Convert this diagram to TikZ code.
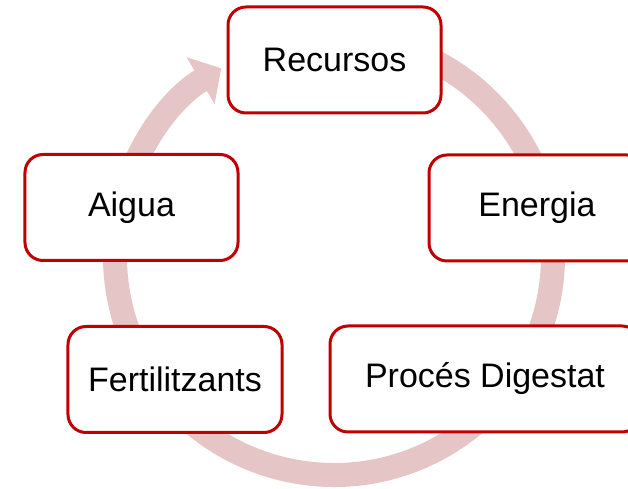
\documentclass[tikz,border=0pt]{standalone}
\usepackage{fontspec}
\setmainfont{Liberation Sans}
\usetikzlibrary{arrows.meta,calc}
\definecolor{col_C00000}{RGB}{192,0,0}
\definecolor{col_E6C5C6}{RGB}{230,197,198}
\definecolor{col_000000}{RGB}{0,0,0}
\newcommand{\tikzdrawstep}[5]{%
\node[stepbox, minimum width=#4] (#1) at (#2,#3) {#5};
}
\tikzset{
  stepbox/.style={draw=col_C00000, line width=3bp, fill=white, rounded corners=18bp,
    minimum height=106bp, text=col_000000, font=\fontsize{34bp}{40bp}\selectfont, inner sep=0pt},
  ring/.style={draw=col_E6C5C6, line width=24bp, -{Triangle[length=24bp,width=53bp]}}
}

\begin{document}
\begin{tikzpicture}[x=1bp,y=1bp]
\useasboundingbox (0,0) rectangle (628,489);
\coordinate (ctr) at (334,233);
\draw[ring] ($(ctr)+(80:219)$) arc[start angle=80, end angle=-239, radius=219];     %% cycle ring
\tikzdrawstep{recursos}{334.5}{429}{213bp}{Recursos}
\tikzdrawstep{energia}{537}{281}{216bp}{Energia}
\tikzdrawstep{proces}{485}{110}{310bp}{Procés Digestat}
\tikzdrawstep{fertil}{175}{109.5}{214bp}{Fertilitzants}
\tikzdrawstep{aigua}{131.5}{281.5}{213bp}{Aigua}
\end{tikzpicture}
\end{document}
